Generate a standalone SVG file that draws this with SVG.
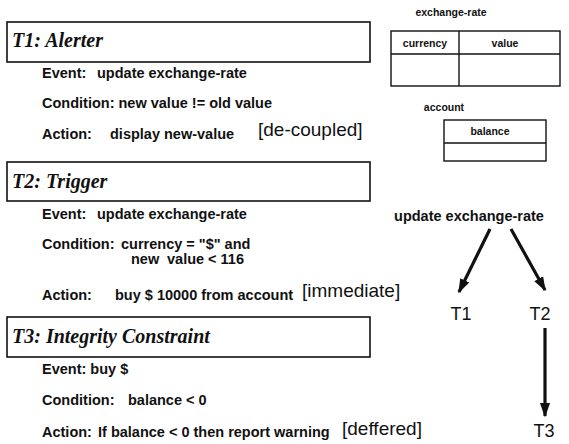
<svg xmlns="http://www.w3.org/2000/svg" width="569" height="444" viewBox="0 0 569 444">
<defs>
<style>
.box{fill:#fff;stroke:#111;stroke-width:1.6}
.tbl{fill:none;stroke:#111;stroke-width:1.4}
.title{font-family:"Liberation Serif",serif;font-weight:bold;font-style:italic;font-size:20px;fill:#111}
.body{font-family:"Liberation Sans",Arial,sans-serif;font-weight:bold;font-size:14.5px;fill:#111}
.small{font-family:"Liberation Sans",Arial,sans-serif;font-weight:bold;font-size:10.5px;fill:#111}
.mode{font-family:"Liberation Sans",Arial,sans-serif;font-size:19px;fill:#111}
.node{font-family:"Liberation Sans",Arial,sans-serif;font-size:18px;fill:#111}
.arrow{stroke:#111;stroke-width:3.2;fill:none;marker-end:url(#ah)}
</style>
<marker id="ah" viewBox="0 0 10 10" refX="9" refY="5" markerWidth="4.5" markerHeight="4.5" orient="auto" markerUnits="strokeWidth">
<path d="M0,1.5 L10,5 L0,8.5 Z" fill="#111"/>
</marker>
</defs>
<rect width="569" height="444" fill="#fff"/>

<g id="T1">
<rect class="box" x="7" y="22" width="363" height="40"/>
<text class="title" x="12" y="47">T1: Alerter</text>
<text class="body" x="42" y="78">Event:<tspan x="97">update exchange-rate</tspan></text>
<text class="body" x="42" y="108">Condition: new value != old value</text>
<text class="body" x="42" y="139">Action:<tspan x="110">display new-value</tspan></text>
<text class="mode" x="258" y="136">[de-coupled]</text>
</g>

<g id="T2">
<rect class="box" x="7" y="162" width="363" height="39"/>
<text class="title" x="12" y="188">T2: Trigger</text>
<text class="body" x="42" y="219">Event:<tspan x="97">update exchange-rate</tspan></text>
<text class="body" x="42" y="249">Condition:<tspan x="121">currency = "$" and</tspan></text>
<text class="body" x="131" y="264">new<tspan x="167">value &lt; 116</tspan></text>
<text class="body" x="42" y="300">Action:<tspan x="115">buy $ 10000 from account</tspan></text>
<text class="mode" x="302" y="297">[immediate]</text>
</g>

<g id="T3">
<rect class="box" x="7" y="317" width="363" height="40"/>
<text class="title" x="12" y="343">T3: Integrity Constraint</text>
<text class="body" x="42" y="374">Event: buy $</text>
<text class="body" x="42" y="405">Condition:<tspan x="128">balance &lt; 0</tspan></text>
<text class="body" x="42" y="437">Action:<tspan x="98">If balance &lt; 0 then report warning</tspan></text>
<text class="mode" x="342" y="435">[deffered]</text>
</g>

<g id="exchange-rate">
<text class="small" x="451" y="16" text-anchor="middle">exchange-rate</text>
<rect class="tbl" x="391" y="31" width="169" height="55"/>
<line class="tbl" x1="391" y1="54" x2="560" y2="54"/>
<line class="tbl" x1="459" y1="31" x2="459" y2="86"/>
<text class="small" x="425" y="47" text-anchor="middle">currency</text>
<text class="small" x="505" y="47" text-anchor="middle">value</text>
</g>

<g id="account">
<text class="small" x="444" y="111" text-anchor="middle">account</text>
<rect class="tbl" x="444" y="120" width="102" height="41"/>
<line class="tbl" x1="444" y1="143" x2="546" y2="143"/>
<text class="small" x="490" y="135" text-anchor="middle">balance</text>
</g>

<g id="event-node">
<text class="body" x="469" y="221" text-anchor="middle">update exchange-rate</text>
</g>
<g id="n-T1"><text class="node" x="461" y="320" text-anchor="middle">T1</text></g>
<g id="n-T2"><text class="node" x="540" y="320" text-anchor="middle">T2</text></g>
<g id="n-T3"><text class="node" x="544" y="437" text-anchor="middle">T3</text></g>

<g id="connectors">
<line class="arrow" x1="490" y1="229" x2="459" y2="292"/>
<line class="arrow" x1="511" y1="229" x2="545" y2="290"/>
<line class="arrow" x1="545" y1="328" x2="545" y2="416"/>
</g>
</svg>
